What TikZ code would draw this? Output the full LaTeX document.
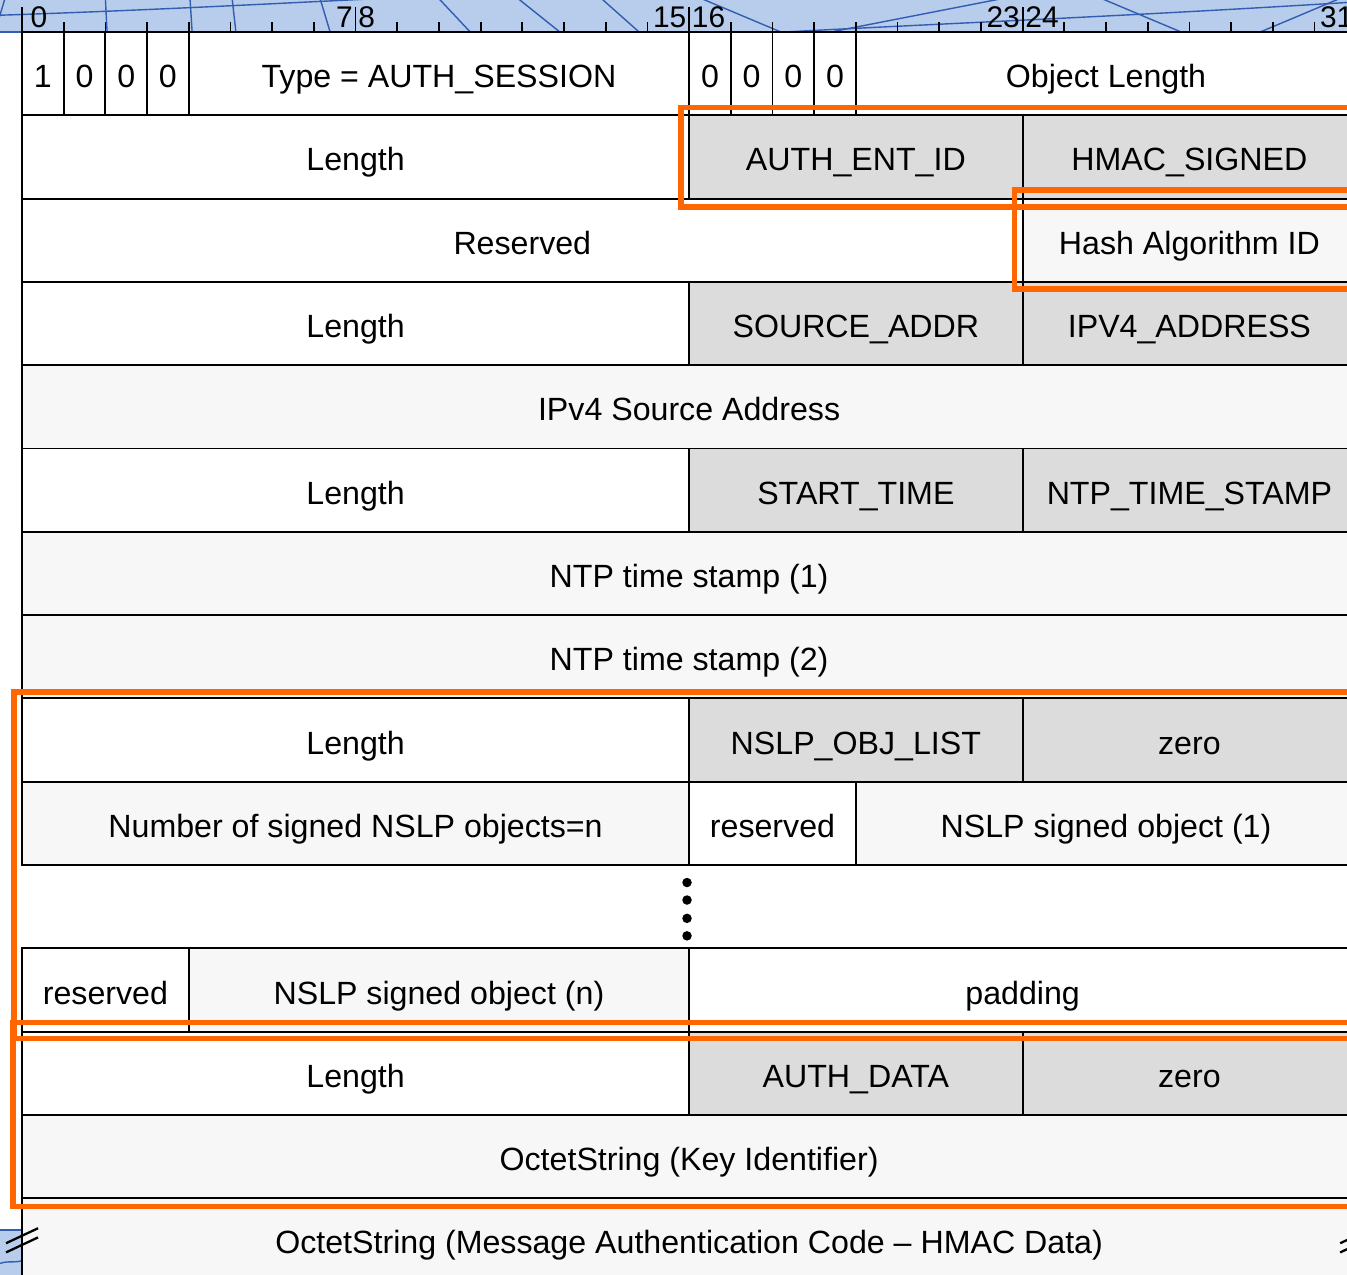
\documentclass[tikz,border=0pt]{standalone}
\usepackage{fontspec}
\setmainfont{Liberation Sans}
\usepackage{tikz}
\usetikzlibrary{calc}
\definecolor{rulerblue}{RGB}{184, 204, 236}
\definecolor{rulerline}{RGB}{50, 94, 178}
\definecolor{fieldgray}{RGB}{220, 220, 220}
\definecolor{fieldlight}{RGB}{247, 247, 247}
\definecolor{hiorange}{RGB}{255, 102, 0}
\tikzset{
  field/.style 2 args={draw, line width=1.1pt, fill=#2, anchor=north west,
    inner sep=0pt, outer sep=0pt, minimum width=#1*0.8338cm,
    minimum height=1.666cm, text height=0.56cm, text depth=0pt,
    font=\fontsize{18.3}{22}\selectfont},
  hilite/.style={draw=hiorange, line width=3pt},
  bittick/.style={line width=1pt},
  bitnum/.style={inner sep=0pt, font=\fontsize{17}{19}\selectfont},
  breakmark/.style={line width=1.3pt}
}

\begin{document}
\begin{tikzpicture}[x=0.8338cm, y=-1.666cm]
\useasboundingbox (-0.528,-0.384) rectangle (31.78,14.91);
% ruler band
\fill[rulerblue] (-0.6,-0.4) rectangle (32.6,0);
\foreach \a/\c in {-0.41/-0.65, 2.0/2.04, 4.03/4.08, 5.04/5.13, 7.15/7.39, 10.0/10.75, 11.9/12.9, 13.9/14.8, 16.3/18.2, 23.5/19.4, 25.9/27.8, 31.6/29.7}
  \draw[rulerline, line width=0.8pt] (\a,-0.4) -- (\c,0);
\draw[rulerline, line width=0.8pt] (-0.6,-0.2) .. controls (3,-0.26) and (6,-0.34) .. (8.5,-0.4);
\draw[rulerline, line width=0.8pt] (18.3,0) .. controls (22,-0.1) and (27,-0.2) .. (32.6,-0.38);
\draw[rulerline, line width=1.2pt] (-0.6,0) -- (32.6,0);
\foreach \b in {1,...,31} \draw[bittick] (\b,0) -- (\b,-0.12);
\foreach \b in {0,8,16,24} \draw[bittick] (\b,0) -- (\b,-0.3);
\node[bitnum, anchor=south west] (n0) at (0.2,-0.05) {0};
\foreach \lo/\hi in {7/8, 15/16, 23/24} {
  \node[bitnum, anchor=south east] (n\lo) at (\hi-0.06,-0.05) {\lo};
  \node[bitnum, anchor=south west] (n\hi) at (\hi+0.06,-0.05) {\hi};
}
\node[bitnum, anchor=south east] (n31) at (31.94,-0.05) {31};

% bottom left corner of the background
\fill[rulerblue] (-0.6,14.38) rectangle (0,15);
\draw[rulerline, line width=1pt] (-0.6,14.38) -- (0,14.38);
\draw[rulerline, line width=0.8pt] (-0.6,14.8) .. controls (-0.4,14.74) and (-0.2,14.78) .. (0,14.75);

% header word
\foreach \b/\v [count=\i] in {0/1, 1/0, 2/0, 3/0}
  \node[field={1}{white}] (flag\i) at (\b,0) {\v};
\node[field={12}{white}] (type) at (4,0) {Type = AUTH\_SESSION};
\foreach \b [count=\i] in {16,...,19}
  \node[field={1}{white}] (zbit\i) at (\b,0) {0};
\node[field={12}{white}] (objlen) at (20,0) {Object Length};

% AUTH_ENT_ID
\node[field={16}{white}] (entlen) at (0,1) {Length};
\node[field={8}{fieldgray}] (entid) at (16,1) {AUTH\_ENT\_ID};
\node[field={8}{fieldgray}] (hmacsig) at (24,1) {HMAC\_SIGNED};
\node[field={24}{white}] (rsvd) at (0,2) {Reserved};
\node[field={8}{fieldlight}] (hashid) at (24,2) {Hash Algorithm ID};

% SOURCE_ADDR
\node[field={16}{white}] (srclen) at (0,3) {Length};
\node[field={8}{fieldgray}] (srcaddr) at (16,3) {SOURCE\_ADDR};
\node[field={8}{fieldgray}] (ipv4) at (24,3) {IPV4\_ADDRESS};
\node[field={32}{fieldlight}] (srcip) at (0,4) {IPv4 Source Address};

% START_TIME
\node[field={16}{white}] (timelen) at (0,5) {Length};
\node[field={8}{fieldgray}] (start) at (16,5) {START\_TIME};
\node[field={8}{fieldgray}] (ntpts) at (24,5) {NTP\_TIME\_STAMP};
\node[field={32}{fieldlight}] (ntpone) at (0,6) {NTP time stamp (1)};
\node[field={32}{fieldlight}] (ntptwo) at (0,7) {NTP time stamp (2)};

% NSLP_OBJ_LIST
\node[field={16}{white}] (listlen) at (0,8) {Length};
\node[field={8}{fieldgray}] (objlist) at (16,8) {NSLP\_OBJ\_LIST};
\node[field={8}{fieldgray}] (listzero) at (24,8) {zero};
\node[field={16}{fieldlight}] (nobj) at (0,9) {Number of signed NSLP objects=n};
\node[field={4}{white}] (rsvdone) at (16,9) {reserved};
\node[field={12}{fieldlight}] (objone) at (20,9) {NSLP signed object (1)};
\foreach \y in {10.21,10.42,10.64,10.85} \fill (15.95,\y) circle (0.095cm);
\node[field={4}{white}] (rsvdn) at (0,11) {reserved};
\node[field={12}{fieldlight}] (objn) at (4,11) {NSLP signed object (n)};
\node[field={16}{white}] (padding) at (16,11) {padding};

% AUTH_DATA
\node[field={16}{white}] (datalen) at (0,12) {Length};
\node[field={8}{fieldgray}] (authdata) at (16,12) {AUTH\_DATA};
\node[field={8}{fieldgray}] (datazero) at (24,12) {zero};
\node[field={32}{fieldlight}] (keyid) at (0,13) {OctetString (Key Identifier)};
\node[field={32}{fieldlight}] (hmacdata) at (0,14) {OctetString (Message Authentication Code -- HMAC Data)};

% break marks
\foreach \xb in {0,32} {
  \draw[breakmark] (\xb-0.384,14.54) -- (\xb+0.384,14.36);
  \draw[breakmark] (\xb-0.384,14.65) -- (\xb+0.384,14.47);
}

% highlighted parts
\draw[hilite] ([shift={(-0.16cm,0.16cm)}]entid.north west) rectangle ([shift={(0.16cm,-0.17cm)}]hmacsig.south east);
\draw[hilite] ([shift={(-0.17cm,0.17cm)}]hashid.north west) rectangle ([shift={(0.16cm,-0.14cm)}]hashid.south east);
\draw[hilite] ([shift={(-0.16cm,0.13cm)}]listlen.north west) rectangle ([shift={(0.16cm,-0.14cm)}]padding.south east);
\draw[hilite] ([shift={(-0.18cm,0.18cm)}]datalen.north west) rectangle ([shift={(0.16cm,-0.16cm)}]keyid.south east);
\end{tikzpicture}
\end{document}
